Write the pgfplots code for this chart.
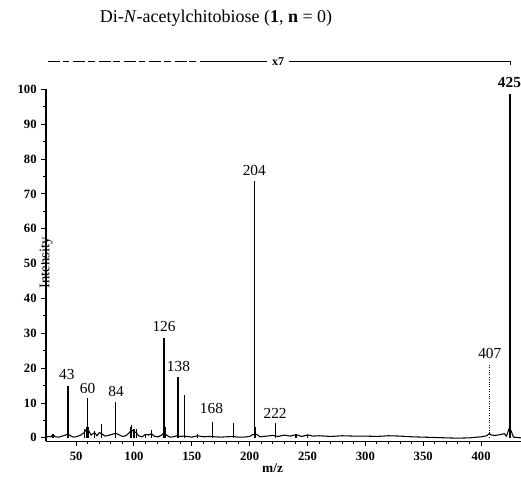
\documentclass[border=0pt]{standalone}
\usepackage{pgfplots}
\pgfplotsset{compat=1.18}
\usepackage{fontspec}
\setmainfont{Liberation Serif}

\begin{document}
\begin{tikzpicture}
\begin{axis}[
  scale only axis, width=356.25pt, height=264pt,
  xmin=24, xmax=434.5, ymin=-1, ymax=100,
  axis lines=left,
  axis line style={-, line width=0.9pt},
  xtick={50,100,...,400}, ytick={0,10,...,100},
  minor x tick num=4, minor y tick num=1,
  tick align=outside, major tick length=3.5pt, minor tick length=2pt,
  tick style={line width=0.7pt, black},
  ticklabel style={font=\fontsize{9.5}{10}\selectfont\bfseries},
  xticklabel style={yshift=-1pt},
  /pgf/number format/assume math mode=true,
  xlabel={\textbf{m/z}},
  xlabel style={at={(axis description cs:0.477,0)}, anchor=center, yshift=-20pt, font=\fontsize{10}{11}\selectfont},
  ylabel={Intensity},
  ylabel style={at={(axis description cs:0,0.594)}, anchor=center, xshift=-23pt, font=\fontsize{11}{12}\selectfont},
  clip=false,
]
% baseline noise
\addplot[black, line width=0.8pt] coordinates {
(24,0.2)(26,0.4)(28,0.3)(30,0.9)(32,0.3)(35,0.2)(38,0.5)(41,0.8)(43,1.2)(45,0.6)(48,0.2)
(51,0.4)(54,0.8)(57,1.5)(59,2.5)(61,2)(63,0.8)(66,1.5)(68,0.6)(70,1.5)(72,1.2)(75,0.5)
(78,0.7)(81,1)(84,1.3)(87,0.9)(90,0.4)(93,0.6)(96,1.5)(98,2.2)(100,1.8)(102,1.5)(104,0.6)
(107,0.3)(110,1)(113,0.8)(115,1.2)(118,0.4)(121,0.3)(124,0.8)(126,1.5)(128,0.8)(131,0.2)
(134,0.3)(137,0.6)(140,0.4)(143,0.5)(146,0.4)(150,0.2)(155,0.6)(160,0.3)(165,0.4)(170,0.3)
(175,0.2)(180,0.3)(186,0.4)(190,0.2)(195,0.2)(200,0.4)(203,1)(206,1)(209,0.3)(215,0.5)
(220,0.7)(225,0.4)(230,0.8)(235,0.5)(240,0.9)(245,0.4)(250,0.8)(255,0.5)(260,0.6)(270,0.4)
(280,0.6)(290,0.5)(300,0.5)(310,0.4)(320,0.6)(330,0.5)(340,0.3)(350,0.2)(360,0.1)(370,0)
(380,-0.1)(390,0)(400,0.3)(405,0.6)(407,1.2)(409,0.8)(412,0.7)(416,0.9)(420,1.2)(422,0.5)
(424,2.5)(426,2)(428,0.2)(434.5,0)
};
% peaks
\addplot[ycomb, black, line width=0.9pt] coordinates {
(30,1)(43,14.9)(57,2.5)(59,3)(60,11.5)(61,3)(66,2)(72,4)(84,10.3)(97,3)(98,3.7)
(100,2.5)(102,2.5)(110,1.2)(115,2.3)(126,28.7)(127,3)(138,17.5)(144,12.4)(155,1)
(168,4.6)(186,4.3)(204,73.6)(205,3)(222,4.3)(240,1)(250,1.2)(425,98.6)
};
\addplot[ycomb, black, line width=0.8pt, densely dotted] coordinates {(407,21)};

\tikzset{pk/.style={font=\fontsize{11.5}{12}\selectfont, anchor=center, inner sep=0pt}}
\node[pk] at (axis cs:42,18.1) {43};
\node[pk] at (axis cs:60,14.3) {60};
\node[pk] at (axis cs:84.5,13.3) {84};
\node[pk] at (axis cs:126,31.9) {126};
\node[pk] at (axis cs:138.5,20.4) {138};
\node[pk] at (axis cs:167,8.3) {168};
\node[pk] at (axis cs:204,76.7) {204};
\node[pk] at (axis cs:222,6.9) {222};
\node[pk] at (axis cs:407.5,24.1) {407};
\node[pk, font=\fontsize{11.5}{12}\selectfont\bfseries] at (axis cs:424.5,102) {425};

% title and x7 bar
\node[font=\fontsize{13.5}{15}\selectfont, anchor=center]
  at ([xshift=127.5pt,yshift=317.6pt]rel axis cs:0,0)
  {Di-\textit{N}-acetylchitobiose (\textbf{1}, \textbf{n} = 0)};
\draw[line width=0.7pt, dash pattern=on 9pt off 2pt on 5pt off 3pt]
  ([xshift=1.5pt,yshift=284.6pt]rel axis cs:0,0) -- ([xshift=120pt,yshift=284.6pt]rel axis cs:0,0);
\draw[line width=0.7pt]
  ([xshift=120pt,yshift=284.6pt]rel axis cs:0,0) -- ([xshift=166pt,yshift=284.6pt]rel axis cs:0,0);
\node[font=\fontsize{9}{10}\selectfont\bfseries, inner sep=0pt]
  at ([xshift=174pt,yshift=284.6pt]rel axis cs:0,0) {x7};
\draw[line width=0.7pt]
  ([xshift=182pt,yshift=284.6pt]rel axis cs:0,0) -- ([xshift=348pt,yshift=284.6pt]rel axis cs:0,0);
\draw[line width=0.7pt]
  ([xshift=348pt,yshift=285.6pt]rel axis cs:0,0) -- ([xshift=348pt,yshift=282.6pt]rel axis cs:0,0);
\end{axis}
\pgfresetboundingbox
\useasboundingbox (current axis.south west) ++(-34.5pt,-26.6pt) rectangle ++(390.75pt,357.6pt);
\end{tikzpicture}
\end{document}
